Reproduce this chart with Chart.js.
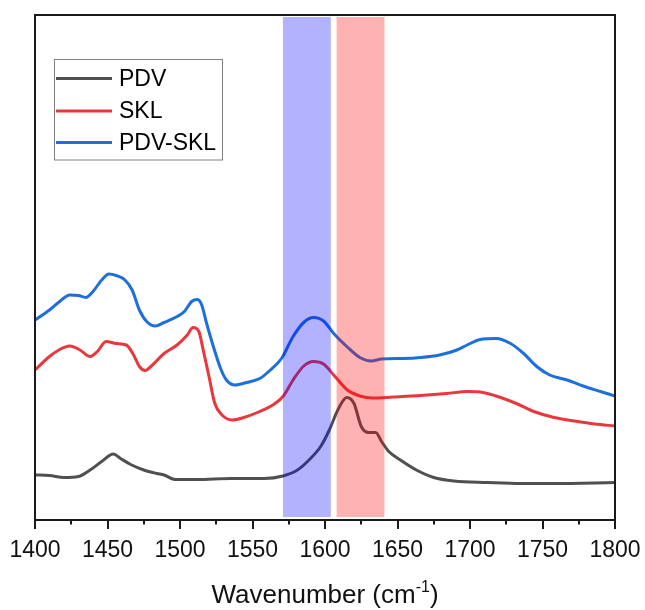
<!DOCTYPE html>
<html>
<head>
<meta charset="utf-8">
<script src="https://cdn.jsdelivr.net/npm/chart.js@4.4.0/dist/chart.umd.min.js"></script>
<style>
  html, body { margin: 0; padding: 0; background: #fff; }
  canvas { display: block; }
</style>
</head>
<body>
<canvas id="espectro" width="645" height="610"></canvas>
<script>
// Espectros FTIR (absorbancia en u.a., con desplazamiento vertical)
const pdvX = [1400,1410,1420,1430,1438,1446,1454,1459,1466,1475,1484,1489,1497,1512,1535,1558,1571,1581,1590,1597,1603,1609,1615,1620,1625,1630,1635,1639,1644,1652,1663,1675,1689,1712,1735,1758,1800];
const pdvY = [9.0,8.9,8.5,8.7,10.0,11.7,13.2,12.3,11.1,10.0,9.3,9.0,8.1,8.1,8.3,8.3,8.8,10.0,12.3,14.7,18.0,22.1,24.5,23.3,18.7,17.5,17.5,15.7,13.7,12.0,10.0,8.5,7.8,7.5,7.3,7.3,7.5];

const sklX = [1400,1410,1417,1424,1431,1438,1443,1449,1456,1463,1468,1472,1476,1481,1489,1498,1505,1509,1513,1516,1520,1524,1529,1536,1544,1555,1564,1571,1578,1585,1592,1599,1606,1615,1624,1633,1647,1666,1684,1698,1707,1718,1732,1744,1758,1772,1786,1800];
const sklY = [30.0,32.7,34.1,34.8,34.0,32.7,33.7,35.7,35.3,35.0,33.0,30.7,29.9,31.0,33.3,35.0,37.0,38.5,37.7,34.0,28.7,23.3,21.0,20.0,20.5,21.7,23.0,24.7,28.0,30.7,31.7,31.2,29.0,26.1,24.8,24.4,24.6,24.9,25.3,25.7,25.6,24.8,23.3,21.7,20.5,19.8,19.2,18.8];

const mezclaX = [1400,1410,1417,1424,1430,1435,1440,1446,1451,1456,1462,1467,1472,1477,1483,1489,1498,1503,1508,1512,1515,1518,1523,1528,1532,1538,1546,1555,1562,1570,1578,1586,1592,1599,1606,1615,1624,1632,1639,1654,1666,1679,1691,1698,1707,1718,1728,1737,1746,1755,1767,1778,1790,1800];
const mezclaY = [40.0,42.0,43.7,45.0,44.9,44.5,45.7,48.0,49.2,48.9,48.0,46.0,42.0,39.7,38.8,39.5,40.7,41.7,43.7,44.1,43.0,39.7,34.7,30.3,28.0,27.0,27.5,28.3,29.9,32.3,36.7,39.7,40.5,39.8,37.3,34.7,32.5,31.8,32.2,32.3,32.5,33.0,34.0,35.0,36.1,36.3,35.3,33.3,30.7,29.0,28.0,26.8,25.7,24.8];

const nombres = ['PDV', 'SKL', 'PDV-SKL'];

// Bandas resaltadas (cm-1)
const bandaInicio = [1571, 1608];
const bandaFin = [1604, 1641];

const colores = ['#505050', '#E8383D', '#1E6FDC'];
const coloresBanda = ['rgba(0,0,255,0.3)', 'rgba(255,0,0,0.3)'];

const FUENTE = '"Liberation Sans", Arial, sans-serif';

function puntos(xs, ys) {
    return xs.map((x, i) => ({ x: x, y: ys[i] }));
}

// Bandas por encima de las curvas, marco, marcas del eje y leyenda
const decoracion = {
    id: 'decoracion',
    afterDatasetsDraw(chart) {
        const { ctx, chartArea, scales } = chart;
        const xs = scales.x;
        ctx.save();
        for (let i = 0; i < bandaInicio.length; i++) {
            const x0 = xs.getPixelForValue(bandaInicio[i]);
            const x1 = xs.getPixelForValue(bandaFin[i]);
            ctx.fillStyle = coloresBanda[i];
            ctx.fillRect(x0, chartArea.top + 2, x1 - x0, chartArea.bottom - chartArea.top - 5);
        }
        ctx.restore();
    },
    afterDraw(chart) {
        const { ctx, chartArea, scales } = chart;
        const xs = scales.x;
        ctx.save();

        // marco
        ctx.strokeStyle = '#1a1a1a';
        ctx.lineWidth = 2;
        ctx.strokeRect(chartArea.left, chartArea.top, chartArea.right - chartArea.left, chartArea.bottom - chartArea.top);

        // marcas mayores y menores
        xs.ticks.forEach(t => {
            const px = Math.round(xs.getPixelForValue(t.value));
            const largo = t.value % 50 === 0 ? 9 : 4.5;
            ctx.beginPath();
            ctx.moveTo(px, chartArea.bottom);
            ctx.lineTo(px, chartArea.bottom + largo);
            ctx.stroke();
        });

        // título del eje con superíndice
        ctx.fillStyle = '#111';
        ctx.textBaseline = 'alphabetic';
        const base = 'Wavenumber (cm';
        const sup = '-1';
        const fin = ')';
        ctx.font = '26px ' + FUENTE;
        const wBase = ctx.measureText(base).width;
        const wFin = ctx.measureText(fin).width;
        ctx.font = '16px ' + FUENTE;
        const wSup = ctx.measureText(sup).width;
        const total = wBase + wSup + wFin;
        let x = (chartArea.left + chartArea.right) / 2 - total / 2;
        const y = 603;
        ctx.textAlign = 'left';
        ctx.font = '26px ' + FUENTE;
        ctx.fillText(base, x, y);
        x += wBase;
        ctx.font = '16px ' + FUENTE;
        ctx.fillText(sup, x, y - 11);
        x += wSup;
        ctx.font = '26px ' + FUENTE;
        ctx.fillText(fin, x, y);

        // leyenda
        ctx.strokeStyle = '#808080';
        ctx.lineWidth = 1;
        ctx.strokeRect(54.5, 59.5, 168, 100.5);
        ctx.font = '23px ' + FUENTE;
        ctx.textBaseline = 'middle';
        const filas = [78.5, 111, 142.5];
        chart.data.datasets.forEach((ds, i) => {
            ctx.strokeStyle = ds.borderColor;
            ctx.lineWidth = 3;
            ctx.beginPath();
            ctx.moveTo(56, filas[i]);
            ctx.lineTo(112, filas[i]);
            ctx.stroke();
            ctx.fillStyle = '#000';
            ctx.fillText(ds.label, 119, filas[i] + 1);
        });
        ctx.restore();
    }
};

const series = [puntos(pdvX, pdvY), puntos(sklX, sklY), puntos(mezclaX, mezclaY)];

new Chart(document.getElementById('espectro'), {
    type: 'line',
    data: {
        datasets: series.map((d, i) => ({
            label: nombres[i],
            data: d,
            borderColor: colores[i],
            borderWidth: 3,
            pointRadius: 0,
            cubicInterpolationMode: 'monotone',
            fill: false
        }))
    },
    options: {
        responsive: false,
        animation: false,
        devicePixelRatio: 1,
        layout: { padding: { left: 35, right: 30, top: 15, bottom: 0 } },
        plugins: {
            legend: { display: false },
            tooltip: { enabled: false }
        },
        scales: {
            x: {
                type: 'linear',
                min: 1400,
                max: 1800,
                afterFit(scale) {
                    scale.height = 90;
                    scale.paddingLeft = 0;
                    scale.paddingRight = 0;
                },
                grid: { display: false, drawTicks: false },
                border: { display: false },
                ticks: {
                    stepSize: 25,
                    autoSkip: false,
                    maxRotation: 0,
                    padding: 17,
                    color: '#111',
                    font: { family: FUENTE, size: 23 },
                    callback: (v) => (v % 50 === 0 ? String(v) : '')
                }
            },
            y: {
                display: false,
                min: 0,
                max: 101
            }
        }
    },
    plugins: [decoracion]
});
</script>
</body>
</html>
